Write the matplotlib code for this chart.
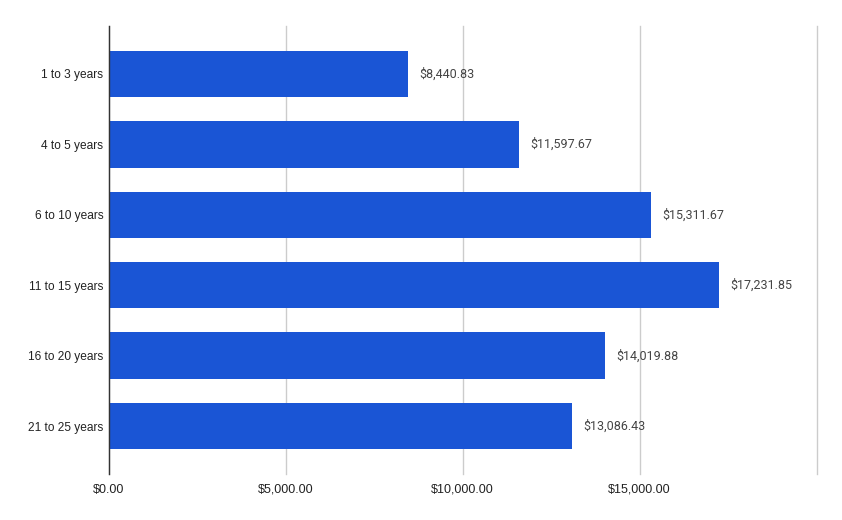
import matplotlib.pyplot as plt
from matplotlib.ticker import FuncFormatter

categories = ["1 to 3 years", "4 to 5 years", "6 to 10 years",
              "11 to 15 years", "16 to 20 years", "21 to 25 years"]
values = [8440.83, 11597.67, 15311.67, 17231.85, 14019.88, 13086.43]
x_ticks = [0, 5000, 10000, 15000, 20000]

bar_color = "#1a55d5"

fig = plt.figure(figsize=(8.42, 5.2), dpi=100)
ax = fig.add_axes([109 / 842, 46 / 520, (816.5 - 109) / 842, 448 / 520])

y = list(range(len(categories)))
ax.barh(y, values, height=0.66, color=bar_color, zorder=3)

# etiquetas de valor al final de cada barra
for yi, v in zip(y, values):
    ax.text(v + 320, yi, f"${v:,.2f}", va="center", ha="left",
            fontsize=9, color="#444444", family="Roboto")

ax.set_xlim(0, 20000)
ax.set_ylim(5.68, -0.68)

ax.set_yticks(y)
ax.set_yticklabels(categories, fontsize=8.6, family="Liberation Sans", color="#222222")
ax.set_xticks(x_ticks)
ax.xaxis.set_major_formatter(FuncFormatter(lambda v, p: "" if v >= 20000 else f"${v:,.2f}"))
for lbl in ax.get_xticklabels():
    lbl.set_fontsize(9)
    lbl.set_family("Liberation Sans")
    lbl.set_color("#222222")

ax.tick_params(axis="both", length=0)
ax.tick_params(axis="y", pad=4)
ax.tick_params(axis="x", pad=7)

ax.grid(axis="x", color="#cccccc", linewidth=1, zorder=0)
for gl in ax.get_xgridlines():
    gl.set_clip_on(False)
for side in ["top", "right", "bottom"]:
    ax.spines[side].set_visible(False)
ax.spines["left"].set_color("#333333")
ax.spines["left"].set_linewidth(1)
ax.spines["left"].set_zorder(4)

plt.savefig("out.png", dpi=100)
